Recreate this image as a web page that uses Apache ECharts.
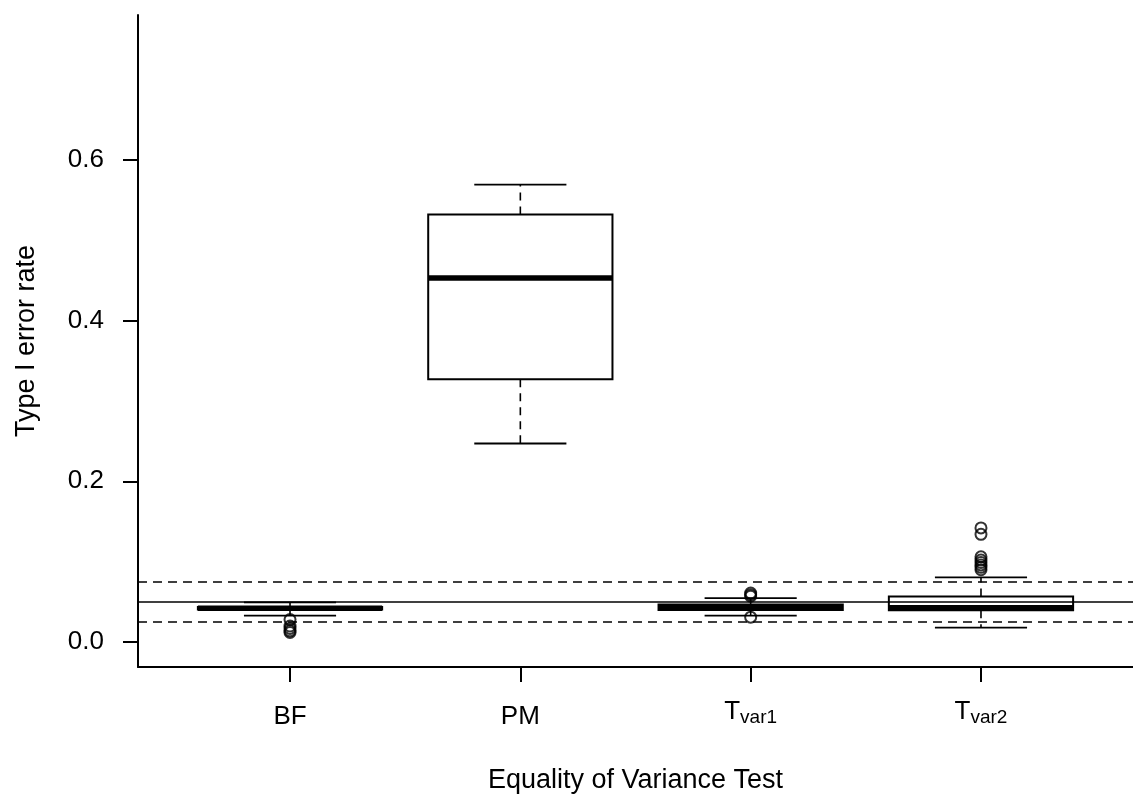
<!DOCTYPE html>
<html>
<head>
<meta charset="utf-8">
<script src="https://cdn.jsdelivr.net/npm/echarts@6/dist/echarts.min.js"></script>
<style>
  html, body { margin: 0; padding: 0; background: #fff; }
  #chart { width: 1133px; height: 799px; }
</style>
</head>
<body>
<div id="chart"></div>
<script>
// box statistics per test
var categories = ['BF', 'PM', 'Tvar1', 'Tvar2'];
var lowerWhisker = [0.033, 0.247, 0.033, 0.018];
var q1 = [0.0405, 0.327, 0.0398, 0.0395];
var median = [0.042, 0.453, 0.0431, 0.0426];
var q3 = [0.0435, 0.532, 0.0466, 0.0568];
var upperWhisker = [0.0495, 0.569, 0.0547, 0.0804];

// outliers per test
var outliersBF = [0.028, 0.020, 0.017, 0.014, 0.012];
var outliersPM = [];
var outliersTvar1 = [0.061, 0.059, 0.057, 0.031];
var outliersTvar2 = [0.142, 0.134, 0.106, 0.102, 0.099, 0.096, 0.093, 0.090];

// reference lines
var nominalLine = 0.05;
var boundLines = [0.025, 0.075];

var yTicks = [0, 0.2, 0.4, 0.6];
var xTicks = [1, 2, 3, 4];

var font = 'Liberation Sans, Arial, sans-serif';

var boxData = categories.map(function (c, i) {
    return [i + 1, lowerWhisker[i], q1[i], median[i], q3[i], upperWhisker[i]];
});

var outlierData = [];
[outliersBF, outliersPM, outliersTvar1, outliersTvar2].forEach(function (arr, i) {
    arr.forEach(function (v) { outlierData.push([i + 1, v]); });
});

function renderBox(params, api) {
    var x = api.value(0);
    var half = api.size([0.4, 0])[0];
    var capHalf = half / 2;
    var cx = api.coord([x, 0])[0];
    var yLow = api.coord([x, api.value(1)])[1];
    var yQ1 = api.coord([x, api.value(2)])[1];
    var yMed = api.coord([x, api.value(3)])[1];
    var yQ3 = api.coord([x, api.value(4)])[1];
    var yHigh = api.coord([x, api.value(5)])[1];
    var dashed = { stroke: '#000', lineWidth: 1.6, lineDash: [8, 6] };
    var solid = { stroke: '#000', lineWidth: 1.8 };
    return {
        type: 'group',
        children: [
            { type: 'line', shape: { x1: cx, y1: yQ1, x2: cx, y2: yLow }, style: dashed },
            { type: 'line', shape: { x1: cx, y1: yQ3, x2: cx, y2: yHigh }, style: dashed },
            { type: 'line', shape: { x1: cx - capHalf, y1: yLow, x2: cx + capHalf, y2: yLow }, style: solid },
            { type: 'line', shape: { x1: cx - capHalf, y1: yHigh, x2: cx + capHalf, y2: yHigh }, style: solid },
            { type: 'rect', shape: { x: cx - half, y: yQ3, width: half * 2, height: yQ1 - yQ3 },
              style: { fill: '#fff', stroke: '#000', lineWidth: 2 } },
            { type: 'line', shape: { x1: cx - half, y1: yMed, x2: cx + half, y2: yMed },
              style: { stroke: '#000', lineWidth: 5.5 } }
        ]
    };
}

var chart = echarts.init(document.getElementById('chart'));

var option = {
    animation: false,
    backgroundColor: '#fff',
    grid: { left: 138, top: 15, width: 998, height: 653 },
    xAxis: {
        type: 'value',
        min: 0.34,
        max: 4.66,
        splitLine: { show: false },
        axisLine: { onZero: false, lineStyle: { color: '#000', width: 2 } },
        axisTick: { customValues: xTicks, length: 15, lineStyle: { color: '#000', width: 2 } },
        axisLabel: {
            customValues: xTicks,
            margin: 30,
            color: '#000',
            fontSize: 26,
            fontFamily: font,
            formatter: function (v) {
                var name = categories[Math.round(v) - 1];
                if (name.charAt(0) === 'T') {
                    return '{b|T}{s|' + name.slice(1) + '}';
                }
                return '{n|' + name + '}';
            },
            rich: {
                n: { fontSize: 26, fontFamily: font, color: '#000', lineHeight: 40 },
                b: { fontSize: 26, fontFamily: font, color: '#000', lineHeight: 30 },
                s: { fontSize: 19, fontFamily: font, color: '#000', lineHeight: 16, verticalAlign: 'bottom' }
            }
        },
        name: 'Equality of Variance Test',
        nameLocation: 'middle',
        nameGap: 100,
        nameTextStyle: { color: '#000', fontSize: 27, fontFamily: font }
    },
    yAxis: {
        type: 'value',
        min: -0.031,
        max: 0.78,
        splitLine: { show: false },
        axisLine: { lineStyle: { color: '#000', width: 2 } },
        axisTick: { customValues: yTicks, length: 15, lineStyle: { color: '#000', width: 2 } },
        axisLabel: {
            customValues: yTicks,
            margin: 34,
            color: '#000',
            fontSize: 26,
            fontFamily: font,
            formatter: function (v) { return v.toFixed(1); }
        },
        name: 'Type I error rate',
        nameLocation: 'middle',
        nameRotate: 90,
        nameGap: 98,
        nameTextStyle: { color: '#000', fontSize: 27, fontFamily: font }
    },
    series: [
        {
            type: 'custom',
            renderItem: renderBox,
            data: boxData,
            encode: { x: 0, y: [1, 2, 3, 4, 5] },
            z: 3
        },
        {
            type: 'scatter',
            data: outlierData,
            symbol: 'circle',
            symbolSize: 11,
            itemStyle: { color: 'rgba(0,0,0,0)', borderColor: '#000', borderWidth: 2 },
            z: 4,
            markLine: {
                silent: true,
                precision: 4,
                symbol: ['none', 'none'],
                label: { show: false },
                data: [
                    { yAxis: nominalLine, lineStyle: { type: 'solid', color: '#000', width: 1.6 } },
                    { yAxis: boundLines[0], lineStyle: { type: [9, 6], color: '#000', width: 1.6 } },
                    { yAxis: boundLines[1], lineStyle: { type: [9, 6], color: '#000', width: 1.6 } }
                ]
            }
        }
    ]
};

chart.setOption(option);
</script>
</body>
</html>
